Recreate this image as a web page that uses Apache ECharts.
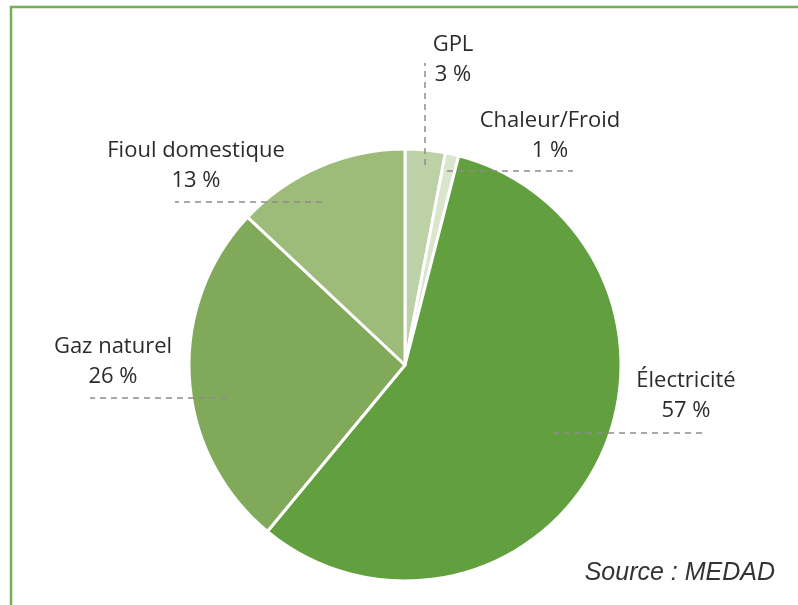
<!DOCTYPE html>
<html>
<head>
<meta charset="utf-8">
<script src="https://cdn.jsdelivr.net/npm/echarts@6/dist/echarts.min.js"></script>
<style>
html,body{margin:0;padding:0;background:#fff;}
#chart{width:798px;height:605px;}
</style>
</head>
<body>
<div id="chart"></div>
<script>
// Data
const categories = ['GPL', 'Chaleur/Froid', 'Électricité', 'Gaz naturel', 'Fioul domestique'];
const values = [3, 1, 57, 26, 13];
const sourceText = 'Source : MEDAD';

// Styling (kept separate from data)
const sliceColors = ['#bdd1a6', '#d9e6cc', '#62a03f', '#80a95a', '#9dbb79'];
// label placement: center of text block, and guide line points
const labelPlacement = [
  { x: 453, y: 59.5, line: [[425, 165], [425, 110], [425, 63]] },
  { x: 550, y: 135.5, line: [[447, 171], [510, 171], [573, 171]] },
  { x: 686, y: 396, line: [[553, 433], [630, 433], [705, 433]] },
  { x: 113, y: 362, line: [[227, 398], [160, 398], [90, 398]] },
  { x: 196, y: 165.5, line: [[322, 202], [250, 202], [175, 202]] }
];

const chart = echarts.init(document.getElementById('chart'), null, { renderer: 'canvas' });

const pieCommon = {
  type: 'pie',
  center: [405, 365],
  radius: 216,
  startAngle: 90,
  clockwise: true,
  avoidLabelOverlap: false,
  emphasis: { disabled: true },
  silent: true
};

const option = {
  backgroundColor: '#ffffff',
  animation: false,
  graphic: [
    {
      type: 'rect',
      shape: { x: 11, y: 7, width: 820, height: 640 },
      style: { fill: 'none', stroke: '#74b052', lineWidth: 2.5 },
      silent: true
    },
    {
      type: 'text',
      right: 23,
      top: 561,
      style: {
        text: sourceText,
        font: 'italic 25px "Liberation Sans", Arial, sans-serif',
        fill: '#333333'
      }
    }
  ],
  series: [
    Object.assign({}, pieCommon, {
      z: 2,
      data: categories.map((name, i) => ({
        name: name,
        value: values[i],
        itemStyle: { color: sliceColors[i] }
      })),
      itemStyle: { borderColor: '#ffffff', borderWidth: 3 },
      label: { show: false },
      labelLine: { show: false }
    }),
    Object.assign({}, pieCommon, {
      z: 5,
      data: categories.map((name, i) => ({
        name: name,
        value: values[i]
      })),
      itemStyle: { color: 'rgba(0,0,0,0)', borderWidth: 0 },
      label: {
        show: true,
        position: 'outside',
        formatter: '{b}\n{c} %',
        fontFamily: '"Open Sans", sans-serif',
        fontSize: 22,
        lineHeight: 30,
        color: '#2b2b2b',
        align: 'center'
      },
      labelLine: {
        show: true,
        lineStyle: { color: '#8c8c8c', width: 1.5, type: [6, 5] }
      },
      labelLayout: function (params) {
        const p = labelPlacement[params.dataIndex];
        return {
          x: p.x,
          y: p.y,
          align: 'center',
          verticalAlign: 'middle',
          labelLinePoints: p.line
        };
      }
    })
  ]
};

chart.setOption(option);
</script>
</body>
</html>
